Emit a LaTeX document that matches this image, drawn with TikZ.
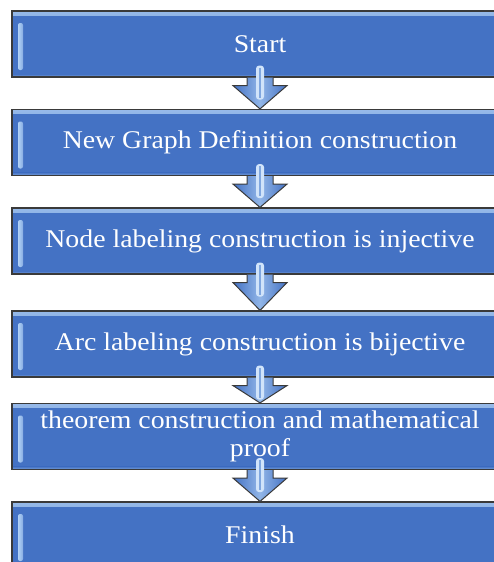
\documentclass[tikz,border=0pt]{standalone}
\usepackage{fontspec}
\setmainfont[FakeStretch=1.09]{Liberation Serif}
\usepackage{tikz}
\usetikzlibrary{positioning}

\definecolor{boxblue}{RGB}{68,114,196}
\definecolor{boxlight}{RGB}{178,210,246}
\definecolor{edgegray}{RGB}{58,58,58}

\begin{document}
\begin{tikzpicture}[x=1pt, y=-1pt,
	stepbox/.style={rectangle, fill=boxblue, draw=edgegray, line width=1.2pt, minimum width=496pt, minimum height=66pt, inner sep=0pt, text=white, align=center, font=\fontsize{25.5}{27.5}\selectfont,
		path picture={
			\shade[top color=boxlight!75!boxblue, bottom color=boxblue] (path picture bounding box.north west) rectangle ([yshift=-4pt]path picture bounding box.north east);
			\shade[bottom color=boxlight!50!boxblue, top color=boxblue] (path picture bounding box.south west) rectangle ([yshift=3pt]path picture bounding box.south east);
			\shade[left color=boxlight, right color=boxlight!60!boxblue, rounded corners=2pt] ([xshift=6pt,yshift=-12pt]path picture bounding box.north west) rectangle ([xshift=11pt,yshift=7pt]path picture bounding box.south west);
		}},
	flowarrow/.style={draw=edgegray, line width=1pt, line join=miter, left color=boxblue, right color=boxblue, middle color=boxlight!70!boxblue},
	glint/.style={fill=boxlight!60!white, rounded corners=3pt},
	glintline/.style={draw=boxlight!55!boxblue, line width=1.4pt}]

		\useasboundingbox (0,0) rectangle (494,562);
		\clip (0,0) rectangle (494,562);

		\node[stepbox](start) at (260,44){Start};
		\node[stepbox](graphdef) at (260,142.5){New Graph Definition construction};
		\node[stepbox](nodelab) at (260,241){Node labeling construction is injective};
		\node[stepbox](arclab) at (260,344){Arc labeling construction is bijective};
		\node[stepbox](theorem) at (260,436.5){theorem construction and mathematical\\proof};
		\node[stepbox](finish) at (260,535){Finish};

		\draw[flowarrow] ([xshift=-13pt]start.south) -- ++(0,8) -- ++(-14,0) -- (graphdef.north) -- ([xshift=27pt,yshift=-8pt]start.south) -- ++(-14,0) -- ([xshift=13pt]start.south);
		\draw[flowarrow] ([xshift=-13pt]graphdef.south) -- ++(0,8) -- ++(-14,0) -- (nodelab.north) -- ([xshift=27pt,yshift=-8pt]graphdef.south) -- ++(-14,0) -- ([xshift=13pt]graphdef.south);
		\draw[flowarrow] ([xshift=-13pt]nodelab.south) -- ++(0,8) -- ++(-14,0) -- (arclab.north) -- ([xshift=27pt,yshift=-8pt]nodelab.south) -- ++(-14,0) -- ([xshift=13pt]nodelab.south);
		\draw[flowarrow] ([xshift=-13pt]arclab.south) -- ++(0,8) -- ++(-14,0) -- (theorem.north) -- ([xshift=27pt,yshift=-8pt]arclab.south) -- ++(-14,0) -- ([xshift=13pt]arclab.south);
		\draw[flowarrow] ([xshift=-13pt]theorem.south) -- ++(0,8) -- ++(-14,0) -- (finish.north) -- ([xshift=27pt,yshift=-8pt]theorem.south) -- ++(-14,0) -- ([xshift=13pt]theorem.south);

		\fill[glint] ([xshift=-4pt,yshift=12pt]start.south) rectangle ([xshift=4pt,yshift=-22pt]start.south);
		\fill[glint] ([xshift=-4pt,yshift=12pt]graphdef.south) rectangle ([xshift=4pt,yshift=-22pt]graphdef.south);
		\fill[glint] ([xshift=-4pt,yshift=12pt]nodelab.south) rectangle ([xshift=4pt,yshift=-22pt]nodelab.south);
		\fill[glint] ([xshift=-4pt,yshift=12pt]arclab.south) rectangle ([xshift=4pt,yshift=-22pt]arclab.south);
		\fill[glint] ([xshift=-4pt,yshift=12pt]theorem.south) rectangle ([xshift=4pt,yshift=-22pt]theorem.south);

		\draw[glintline] ([yshift=10pt]start.south) -- ([yshift=-20pt]start.south);
		\draw[glintline] ([yshift=10pt]graphdef.south) -- ([yshift=-20pt]graphdef.south);
		\draw[glintline] ([yshift=10pt]nodelab.south) -- ([yshift=-20pt]nodelab.south);
		\draw[glintline] ([yshift=10pt]arclab.south) -- ([yshift=-20pt]arclab.south);
		\draw[glintline] ([yshift=10pt]theorem.south) -- ([yshift=-20pt]theorem.south);

	\end{tikzpicture}
\end{document}
